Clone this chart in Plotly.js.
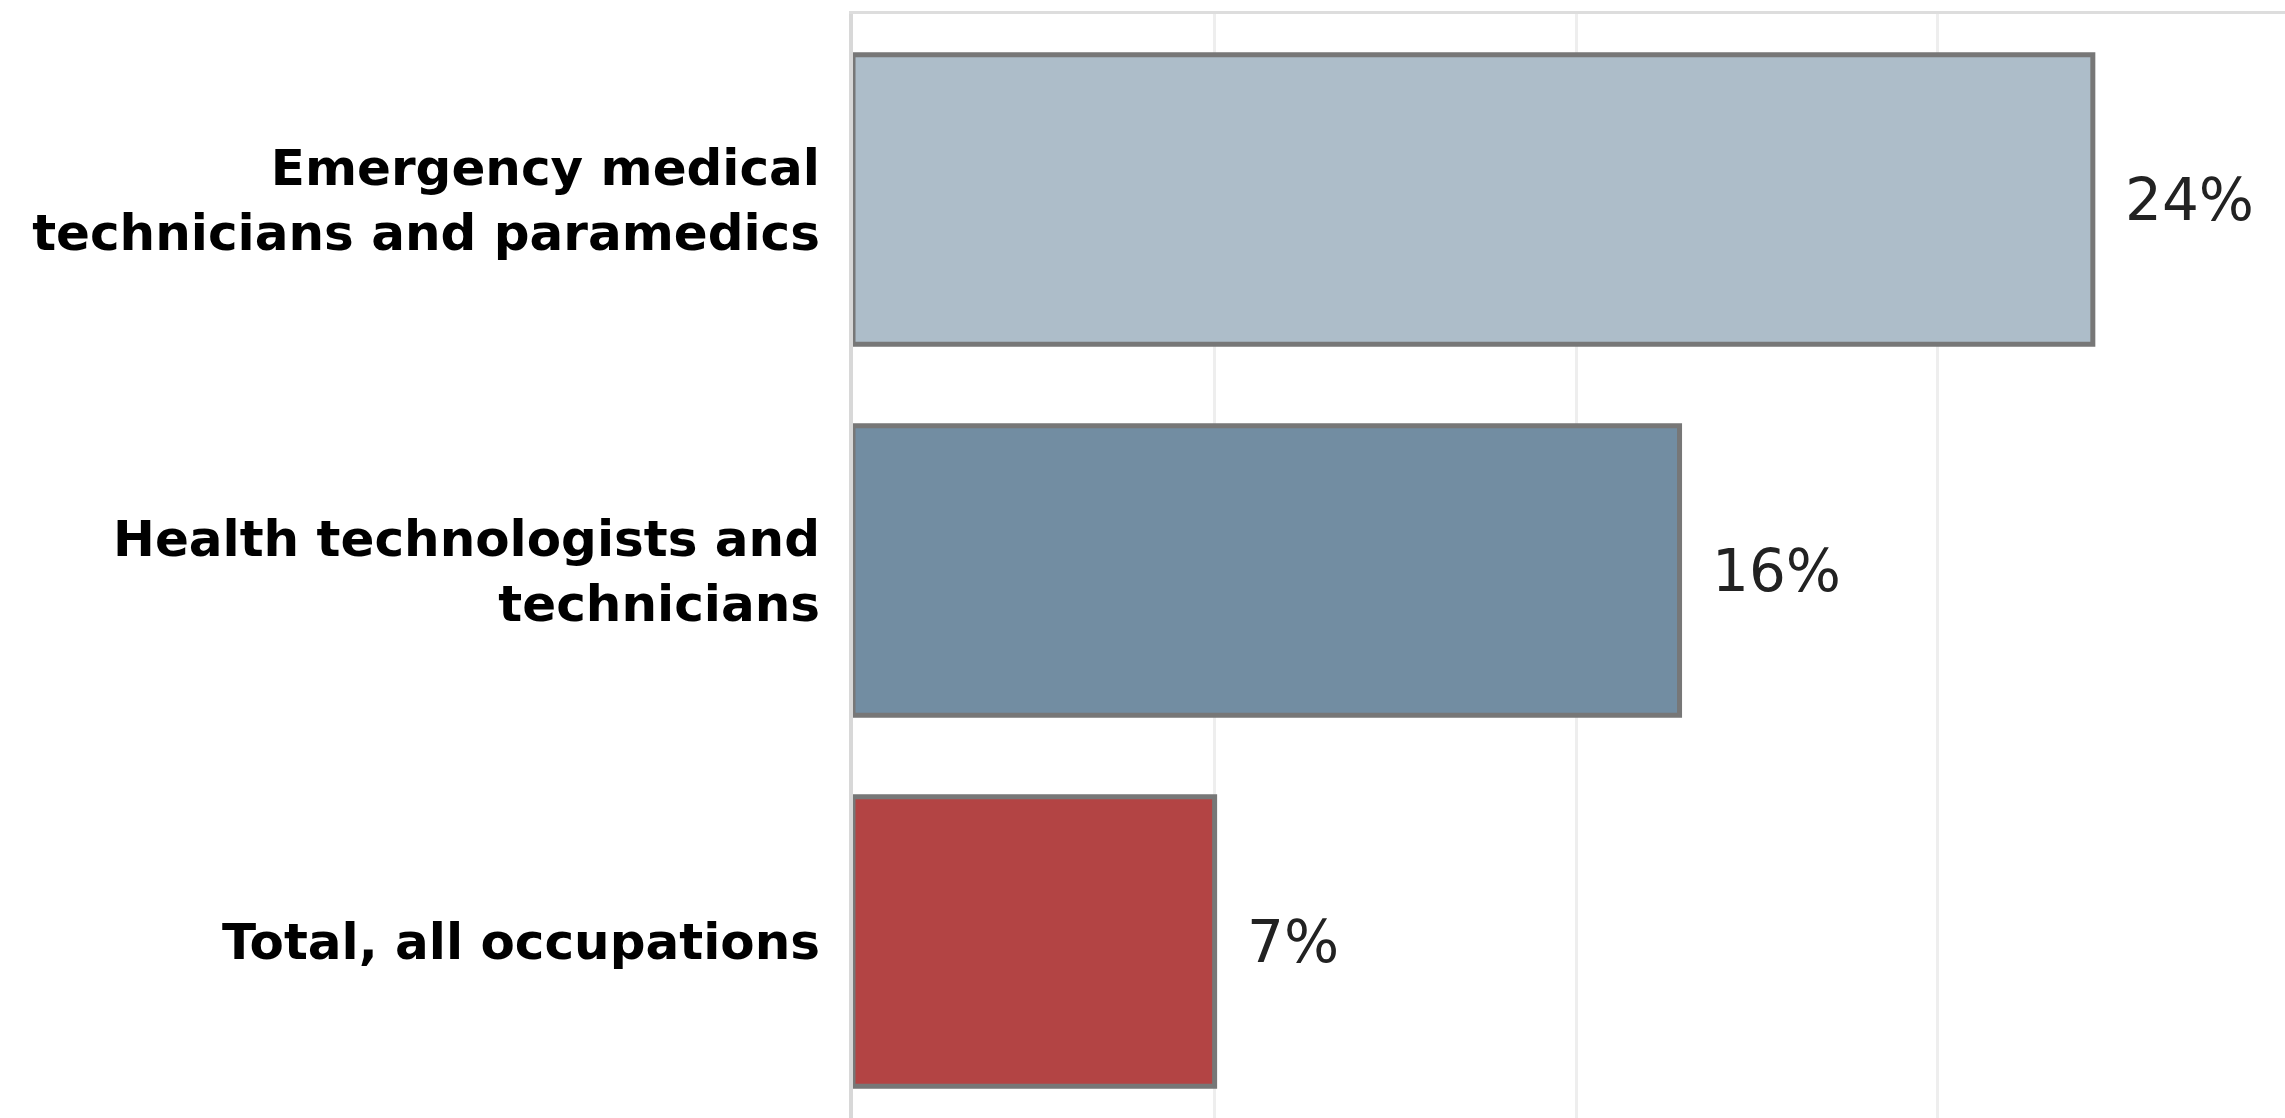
<!DOCTYPE html>
<html>
<head>
<meta charset="utf-8">
<script src="https://cdn.plot.ly/plotly-3.0.1.min.js"></script>
<style>
  html, body { margin: 0; padding: 0; overflow: hidden; background: #ffffff; }
  #chart { width: 2285px; height: 1127px; }
</style>
</head>
<body>
<div id="chart"></div>
<script>
// ---- data ----
const categories = [
  "Emergency medical<br>technicians and paramedics",
  "Health technologists and<br>technicians",
  "Total, all occupations"
];
const values = [24, 16, 7];
const valueLabels = ["24%", "16%", "7%"];

// ---- styles ----
const barColors = ["#adbdc9", "#728da2", "#b34444"];

const trace = {
  type: "bar",
  orientation: "h",
  x: values,
  y: categories,
  marker: {
    color: barColors,
    line: { color: "#777777", width: 5 }
  },
  hoverinfo: "none"
};

const annotations = values.map((v, i) => ({
  x: v,
  y: categories[i],
  xref: "x",
  yref: "y",
  text: valueLabels[i],
  showarrow: false,
  xanchor: "left",
  yanchor: "middle",
  xshift: 30,
  font: { family: "DejaVu Sans", size: 58, color: "#222222" }
}));

const layout = {
  width: 2285,
  height: 1127,
  margin: { l: 853, r: 0, t: 14, b: 0, pad: 0 },
  paper_bgcolor: "#ffffff",
  plot_bgcolor: "#ffffff",
  showlegend: false,
  bargap: 0.22,
  xaxis: {
    range: [0, 27.72],
    dtick: 7,
    tick0: 0,
    showticklabels: false,
    ticks: "",
    showgrid: true,
    gridcolor: "#eeeeee",
    gridwidth: 3,
    zeroline: false,
    showline: true,
    mirror: true,
    linecolor: "#dddddd",
    linewidth: 3,
    fixedrange: true
  },
  yaxis: {
    type: "category",
    range: [2.5, -0.5],
    showgrid: false,
    zeroline: false,
    showline: true,
    linecolor: "#d8d8d8",
    linewidth: 4,
    ticks: "",
    ticklabelstandoff: 19,
    tickfont: { family: "DejaVu Sans", size: 50, color: "#000000", weight: "bold" },
    fixedrange: true
  },
  annotations: annotations
};

Plotly.newPlot("chart", [trace], layout, { displayModeBar: false, staticPlot: true });
</script>
</body>
</html>
